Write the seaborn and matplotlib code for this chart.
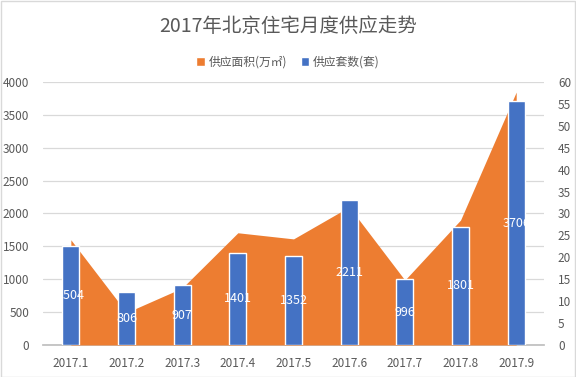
import numpy as np
import pandas as pd
import matplotlib
matplotlib.use("Agg")
import matplotlib.pyplot as plt
import seaborn as sns
from matplotlib.patches import Patch, Rectangle

months = ['2017.1', '2017.2', '2017.3', '2017.4', '2017.5', '2017.6', '2017.7', '2017.8', '2017.9']
supply_units = [1504, 806, 907, 1401, 1352, 2211, 996, 1801, 3706]          # 供应套数(套)
supply_area = [24.0, 7.4, 13.0, 25.6, 24.2, 31.5, 14.8, 28.5, 57.7]         # 供应面积(万㎡)
left_ticks = [0, 500, 1000, 1500, 2000, 2500, 3000, 3500, 4000]
right_ticks = [0, 5, 10, 15, 20, 25, 30, 35, 40, 45, 50, 55, 60]

title = '2017年北京住宅月度供应走势'
label_area = '供应面积(万㎡)'
label_units = '供应套数(套)'

sns.set_theme(style='white')
plt.rcParams['font.family'] = ['Noto Sans CJK SC', 'DejaVu Sans']

ORANGE = '#ED7D31'
BLUE = '#4472C4'
GRAY = '#595959'
GRID = '#D9D9D9'

df = pd.DataFrame({'month': months, 'units': supply_units, 'area': supply_area})

fig = plt.figure(figsize=(5.76, 3.77), dpi=100)
ax = fig.add_axes([0.0747, 0.085, 0.8698, 0.6975])
ax_area = ax.twinx()
ax_bar = ax.twinx()

# base axis: left ticks + grid
ax.set_ylim(0, 4000)
ax.set_yticks(left_ticks)
ax.grid(axis='y', color=GRID, linewidth=0.9)
ax.set_axisbelow(True)
ax.patch.set_visible(False)

# area (right axis)
x = np.arange(len(months))
ax_area.fill_between(x, 0, df['area'].values, color=ORANGE, linewidth=0)
ax_area.set_ylim(0, 60)
ax_area.set_yticks(right_ticks)

# bars (left-axis scale) on top
sns.barplot(data=df, x='month', y='units', ax=ax_bar, color=BLUE, width=0.31,
            saturation=1, order=months)
ax_bar.set_ylim(0, 4000)
ax_bar.set_yticks([])
ax_bar.set_xlabel('')
ax_bar.set_ylabel('')
for c in ax_bar.containers:
    ax_bar.bar_label(c, label_type='center', color='white', fontsize=9)

for a in (ax, ax_area, ax_bar):
    a.set_xlim(-0.5, len(months) - 0.5)
    for s in a.spines.values():
        s.set_visible(False)

ax.spines['bottom'].set_visible(True)
ax.spines['bottom'].set_color('#BFBFBF')
ax.set_xticks(x)
ax.set_xticklabels(months)
ax.set_xticks(np.arange(-0.5, len(months)), minor=True)
ax.tick_params(axis='x', which='major', length=0, pad=9, labelsize=8.5, labelcolor=GRAY)
ax.tick_params(axis='x', which='minor', length=5, color='#BFBFBF', width=0.8, direction='out')
ax.tick_params(axis='y', length=0, pad=10, labelsize=8.5, labelcolor=GRAY)
ax_area.tick_params(axis='y', length=0, pad=10, labelsize=8.5, labelcolor=GRAY)
ax_bar.tick_params(axis='x', length=0, labelbottom=False)
ax_area.tick_params(axis='x', length=0, labelbottom=False)

fig.text(0.5, 1 - 26 / 377, title, ha='center', va='center', fontsize=14, color=GRAY)
handles = [Patch(facecolor=ORANGE, label=label_area), Patch(facecolor=BLUE, label=label_units)]
fig.legend(handles=handles, loc='center', bbox_to_anchor=(0.5, 1 - 62 / 377), ncol=2,
           frameon=False, fontsize=8.5, labelcolor=GRAY, handlelength=0.7, handleheight=0.7,
           handletextpad=0.3, columnspacing=1.2)

fig.patches.append(Rectangle((0.001, 0.001), 0.997, 0.997, transform=fig.transFigure,
                             fill=False, edgecolor=GRID, linewidth=1))

fig.savefig('out.png', dpi=100)
